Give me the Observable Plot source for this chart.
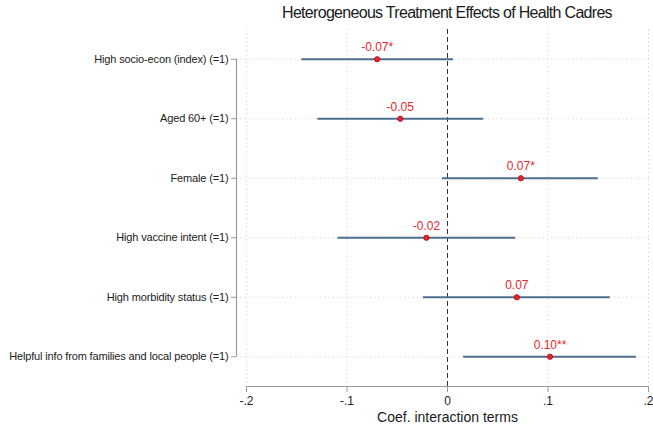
<!DOCTYPE html>
<html>
<head>
<meta charset="utf-8">
<script src="https://cdn.jsdelivr.net/npm/d3@7"></script>
<script src="https://cdn.jsdelivr.net/npm/@observablehq/plot@0.6"></script>
<style>
  body { margin: 0; background: #fff; font-family: "Liberation Sans", Arial, sans-serif; }
  #wrap { position: relative; width: 653px; height: 428px; }
  #title { position: absolute; left: 246px; width: 402px; top: 4px; text-align: center; font-size: 16px; color: #1a1a1a; white-space: nowrap; letter-spacing: -0.7px; }
  #chart { position: absolute; left: 0; top: 28px; }
  #chart svg g[aria-label="y-axis tick label"] text { letter-spacing: -0.15px; }
</style>
</head>
<body>
<div id="wrap">
  <div id="title">Heterogeneous Treatment Effects of Health Cadres</div>
  <div id="chart"></div>
</div>
<script>
const categories = [
  "High socio-econ (index) (=1)",
  "Aged 60+ (=1)",
  "Female (=1)",
  "High vaccine intent (=1)",
  "High morbidity status (=1)",
  "Helpful info from families and local people (=1)"
];
const coef = [-0.070, -0.047, 0.073, -0.021, 0.069, 0.102];
const ciLow = [-0.145, -0.129, -0.005, -0.109, -0.024, 0.016];
const ciHigh = [0.006, 0.036, 0.150, 0.068, 0.162, 0.188];
const labels = ["-0.07*", "-0.05", "0.07*", "-0.02", "0.07", "0.10**"];
const xTicks = [-0.2, -0.1, 0, 0.1, 0.2];
const xTickLabels = ["-.2", "-.1", "0", ".1", ".2"];
const gridX = [-0.2, -0.1, 0.1, 0.2];

const rows = categories.map((c, i) => ({i, c, coef: coef[i], lo: ciLow[i], hi: ciHigh[i], label: labels[i]}));
const idx = categories.map((_, i) => i);

const chart = Plot.plot({
  width: 653,
  height: 400,
  marginLeft: 236,
  marginRight: 1,
  marginTop: 1,
  marginBottom: 42,
  style: {fontFamily: "'Liberation Sans', Arial, sans-serif", background: "transparent"},
  x: {domain: [-0.2, 0.2], insetLeft: 10, insetRight: 4},
  y: {domain: [-0.5, 5.5], reverse: true},
  marks: [
    Plot.ruleY(idx, {stroke: "#d4d4d4", strokeDasharray: "1.2,3", strokeWidth: 1}),
    Plot.ruleX(gridX, {y1: -0.5, y2: 5.5, stroke: "#d4d4d4", strokeDasharray: "1.2,3", strokeWidth: 1}),
    Plot.ruleX([0], {y1: -0.5, y2: 5.5, stroke: "#333", strokeDasharray: "5,3", strokeWidth: 1}),
    Plot.ruleY([5.5], {x1: -0.2, x2: 0.2, stroke: "#9a9a9a", strokeWidth: 1.2}),
    Plot.ruleX([-0.2], {y1: 0, y2: 5, dx: -10, stroke: "#9a9a9a", strokeWidth: 1.2}),
    Plot.axisX({ticks: xTicks, tickFormat: (d) => xTickLabels[xTicks.indexOf(d)], tickSize: 6, tickPadding: 4, stroke: "#9a9a9a", fill: "#222", fontSize: 12, label: null}),
    Plot.text(["Coef. interaction terms"], {frameAnchor: "bottom", x: 0, dy: 35, fontSize: 14, fill: "#1a1a1a", style: "letter-spacing:-0.35px"}),
    Plot.axisY({ticks: idx, tickFormat: i => categories[i], tickSize: 5, tickPadding: 3, stroke: "#9a9a9a", fill: "#222", fontSize: 11, label: null}),
    Plot.ruleY(rows, {y: "i", x1: "lo", x2: "hi", stroke: "#4e6f8f", strokeWidth: 2.2}),
    Plot.dot(rows, {y: "i", x: "coef", r: 2.6, fill: "#e8262a", stroke: "#b0141a", strokeWidth: 1}),
    Plot.text(rows, {y: "i", x: "coef", text: "label", dy: -12, fill: "#e8262a", fontSize: 12})
  ]
});
document.getElementById("chart").appendChild(chart);
</script>
</body>
</html>
